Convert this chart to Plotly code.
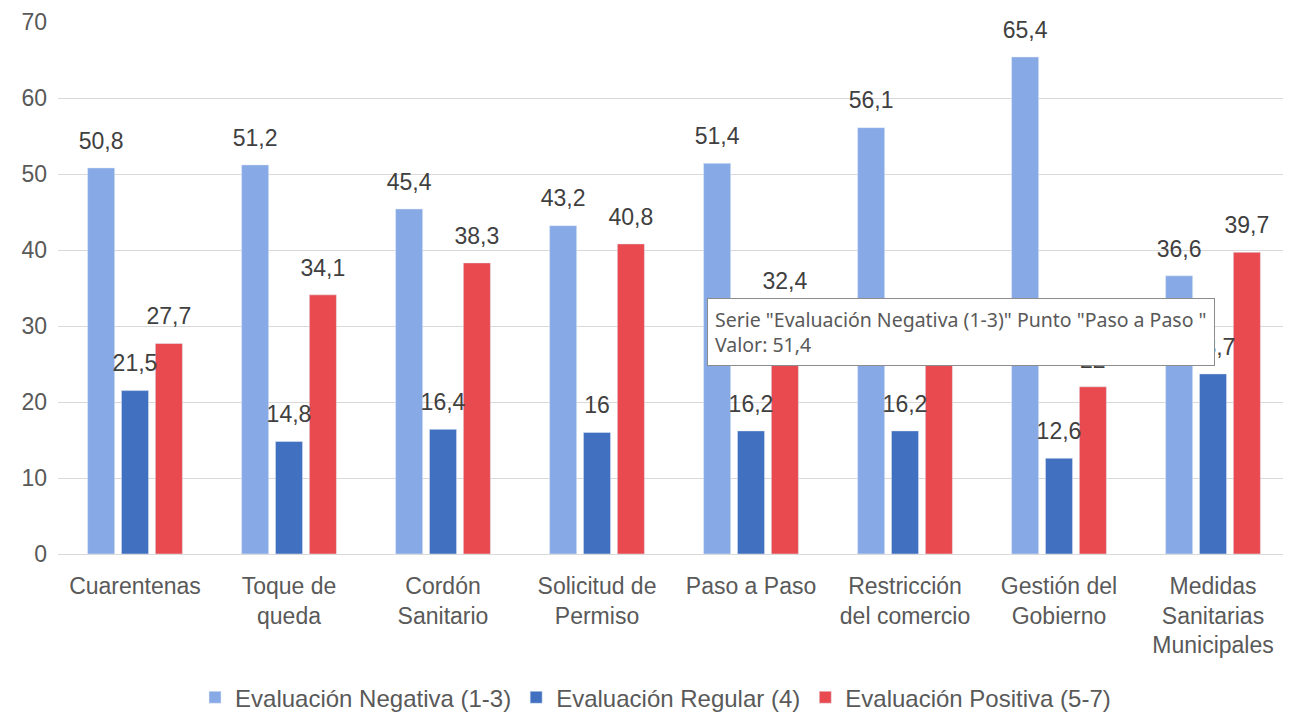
import plotly.graph_objects as go

categories = ["Cuarentenas", "Toque de<br>queda", "Cordón<br>Sanitario", "Solicitud de<br>Permiso",
              "Paso a Paso", "Restricción<br>del comercio", "Gestión del<br>Gobierno",
              "Medidas<br>Sanitarias<br>Municipales"]
negativa = [50.8, 51.2, 45.4, 43.2, 51.4, 56.1, 65.4, 36.6]
regular = [21.5, 14.8, 16.4, 16.0, 16.2, 16.2, 12.6, 23.7]
positiva = [27.7, 34.1, 38.3, 40.8, 32.4, 27.7, 22.0, 39.7]
series_names = ["Evaluación Negativa (1-3)", "Evaluación Regular (4)", "Evaluación Positiva (5-7)"]
colors = ["#87AAE6", "#4070BF", "#E84A4F"]

FONT = "Liberation Sans, Arial"


def fmt(v):
    s = f"{v:.1f}".rstrip("0").rstrip(".")
    return s.replace(".", ",")


fig = go.Figure()
for i, (name, vals, col) in enumerate(zip(series_names, [negativa, regular, positiva], colors)):
    fig.add_trace(go.Bar(
        x=categories, y=vals, name=name, marker_color=col,
        offsetgroup=str(i),
    ))
for i, vals in enumerate([negativa, regular, positiva]):
    fig.add_trace(go.Scatter(
        x=categories, y=vals, mode="text+markers", showlegend=False,
        marker=dict(size=20, opacity=0), offsetgroup=str(i),
        text=[fmt(v) for v in vals], textposition="top center",
        textfont=dict(size=23, color="#404040", family=FONT),
        cliponaxis=False, hoverinfo="skip",
    ))

fig.update_layout(
    width=1291, height=717,
    margin=dict(l=50, r=9, t=14, b=171, autoexpand=False),
    paper_bgcolor="white", plot_bgcolor="white",
    barmode="group", bargap=0.34, bargroupgap=0.2,
    scattermode="group", scattergap=0.34,
    font=dict(family=FONT, color="#595959", size=23),
    yaxis=dict(range=[0, 70], dtick=10, showgrid=True, gridcolor="#D9D9D9", gridwidth=1,
               zeroline=False, ticks="", tickfont=dict(size=23, color="#595959"),
               ticklabelstandoff=10),
    xaxis=dict(showline=True, linecolor="#D9D9D9", linewidth=1, ticks="",
               tickfont=dict(size=23, color="#595959"), ticklabelstandoff=11),
    legend=dict(orientation="h", x=0.485, xanchor="center", y=-0.27, yanchor="middle",
                font=dict(size=24, color="#595959"), traceorder="normal",
                itemwidth=30),
    annotations=[dict(
        xref="paper", yref="paper", x=0.527, y=0.481, xanchor="left", yanchor="top",
        text='Serie "Evaluación Negativa (1-3)" Punto "Paso a Paso "<br>Valor: 51,4',
        showarrow=False, align="left", bgcolor="white", bordercolor="#8C8C8C",
        borderwidth=1, borderpad=7,
        font=dict(family="Noto Sans, DejaVu Sans", size=19.5, color="#595959"),
    )],
)

fig.write_html("out.html")
